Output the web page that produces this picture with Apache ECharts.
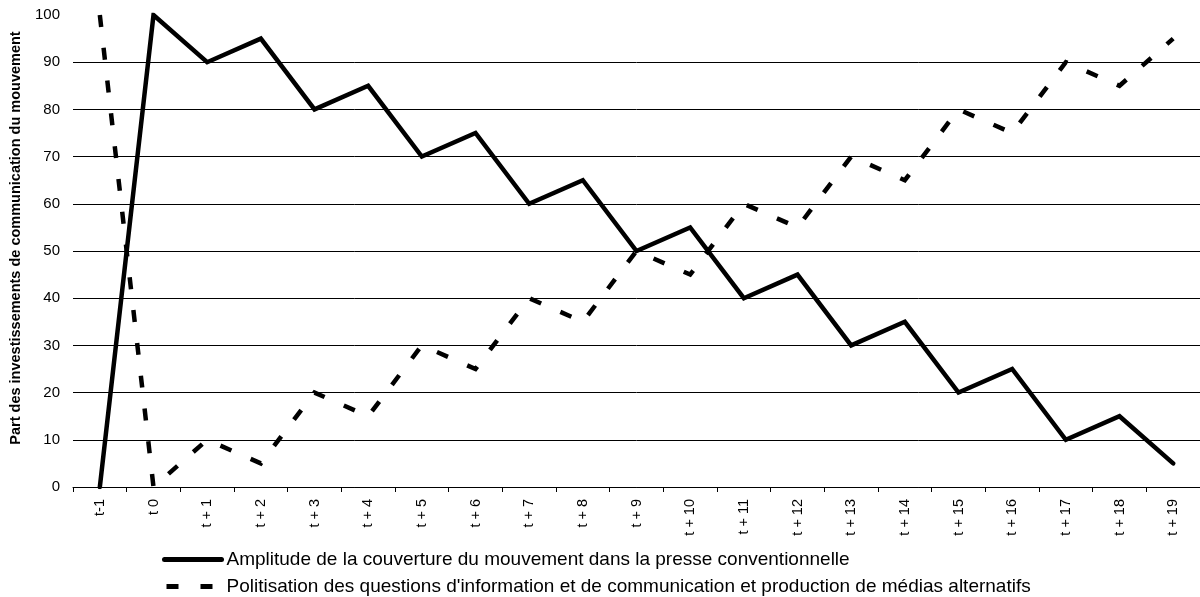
<!DOCTYPE html>
<html>
<head>
<meta charset="utf-8">
<script src="https://cdn.jsdelivr.net/npm/echarts@6/dist/echarts.min.js"></script>
<style>
  html, body { margin: 0; padding: 0; background: #fff; }
  #chart { width: 1200px; height: 597px; }
</style>
</head>
<body>
<div id="chart"></div>
<script>
// Periods around the moment t 0
const categories = ['t-1', 't 0', 't + 1', 't + 2', 't + 3', 't + 4', 't + 5', 't + 6', 't + 7', 't + 8', 't + 9',
  't + 10', 't + 11', 't + 12', 't + 13', 't + 14', 't + 15', 't + 16', 't + 17', 't + 18', 't + 19'];

// Coverage of the movement in the mainstream press
const presseConventionnelle = [0, 100, 90, 95, 80, 85, 70, 75, 60, 65, 50, 55, 40, 45, 30, 35, 20, 25, 10, 15, 5];

// Politicisation of information issues and alternative media production
const mediasAlternatifs = [100, 0, 10, 5, 20, 15, 30, 25, 40, 35, 50, 45, 60, 55, 70, 65, 80, 75, 90, 85, 95];

const yTicks = { min: 0, max: 100, interval: 10 };

const seriesNames = [
  'Amplitude de la couverture du mouvement dans la presse conventionnelle',
  "Politisation des questions d'information et de communication et production de médias alternatifs"
];
const yTitle = 'Part des investissements de communication du mouvement';

const chart = echarts.init(document.getElementById('chart'), null, { renderer: 'canvas' });
const font = 'Liberation Sans, Arial, sans-serif';

// One legend block per series, stacked under the axis labels
function legendAt(name, top, lineStyle) {
  return {
    orient: 'vertical',
    left: 157,
    top: top,
    itemWidth: 57,
    itemHeight: 14,
    itemStyle: { opacity: 0 },
    lineStyle: lineStyle,
    textStyle: { fontFamily: font, fontSize: 19, color: '#000' },
    data: [name]
  };
}

chart.setOption({
  animation: false,
  backgroundColor: '#ffffff',
  grid: { left: 73, right: 0, top: 15, bottom: 110, containLabel: false },
  xAxis: {
    type: 'category',
    data: categories,
    boundaryGap: true,
    axisLine: { show: true, lineStyle: { color: '#000', width: 1 } },
    axisTick: { show: true, length: 5, alignWithLabel: false, lineStyle: { color: '#000' } },
    axisLabel: { rotate: 90, margin: 12, fontFamily: font, fontSize: 14.5, color: '#000', interval: 0 },
    splitLine: { show: false }
  },
  yAxis: {
    type: 'value',
    min: yTicks.min,
    max: yTicks.max,
    interval: yTicks.interval,
    axisLine: { show: false },
    axisTick: { show: false },
    axisLabel: { margin: 13, fontFamily: font, fontSize: 15, color: '#000' },
    splitLine: { show: true, showMaxLine: false, lineStyle: { color: '#000', width: 1 } }
  },
  legend: [
    legendAt(seriesNames[0], 545, { width: 5, cap: 'round' }),
    legendAt(seriesNames[1], 572, { width: 5, cap: 'butt', type: [12, 22], dashOffset: -2 })
  ],
  graphic: [{
    type: 'text',
    x: 16,
    y: 238,
    rotation: Math.PI / 2,
    style: {
      text: yTitle,
      font: 'bold 14.5px ' + font,
      fill: '#000',
      align: 'center',
      verticalAlign: 'middle'
    }
  }],
  series: [
    {
      name: seriesNames[0],
      type: 'line',
      data: presseConventionnelle,
      symbol: 'none',
      lineStyle: { color: '#000', width: 4.5, cap: 'round', join: 'miter' },
      itemStyle: { color: '#000' }
    },
    {
      name: seriesNames[1],
      type: 'line',
      data: mediasAlternatifs,
      symbol: 'none',
      lineStyle: { color: '#000', width: 4.5, type: [12, 21], cap: 'butt', join: 'miter' },
      itemStyle: { color: '#000' }
    }
  ]
});
</script>
</body>
</html>
